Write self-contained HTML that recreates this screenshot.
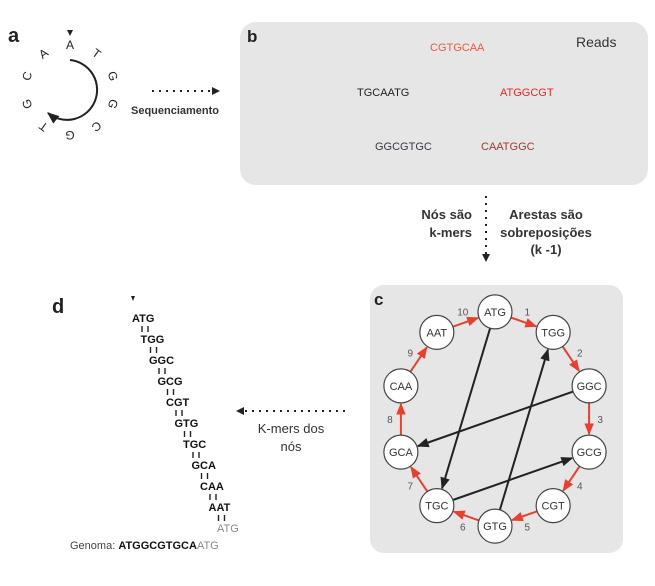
<!DOCTYPE html>
<html><head><meta charset="utf-8"><style>
body{margin:0;background:#fff;}
svg{display:block;font-family:"Liberation Sans",sans-serif;}
</style></head><body>
<svg width="655" height="586" viewBox="0 0 655 586">
<defs>
<marker id="ab" viewBox="0 0 10 10" refX="9" refY="5" markerWidth="6" markerHeight="6" orient="auto"><path d="M0,1 L10,5 L0,9 z" fill="#222"/></marker>
<marker id="ar" viewBox="0 0 10 10" refX="9" refY="5" markerWidth="6" markerHeight="6" orient="auto"><path d="M0,1 L10,5 L0,9 z" fill="#e8402e"/></marker>
</defs>

<!-- Panel a -->
<g>
<text x="8" y="42" font-size="20" font-weight="bold" fill="#222">a</text>
<path d="M70,60 A30,30 0 1 1 48,113" fill="none" stroke="#222" stroke-width="2" marker-end="url(#ab)"/>
<path d="M67,30 L73,30 L70,36 z" fill="#222"/>
<g font-size="12" fill="#222" text-anchor="middle" id="ringletters"></g>
<line x1="152" y1="91" x2="214" y2="91" stroke="#222" stroke-width="2" stroke-dasharray="2,5"/>
<path d="M212,87 L220,91 L212,95 z" fill="#222"/>
<text x="131" y="114" font-size="11" font-weight="bold" fill="#333">Sequenciamento</text>
</g>

<!-- Panel b -->
<g>
<rect x="240" y="22" width="408" height="163" rx="16" fill="#e6e6e6"/>
<text x="247" y="42" font-size="17" font-weight="bold" fill="#222">b</text>
<text x="576" y="47" font-size="14" fill="#333">Reads</text>
<g font-size="11">
<text x="430" y="51" fill="#ea5a3c">CGTGCAA</text>
<text x="357" y="96" fill="#222">TGCAATG</text>
<text x="500" y="96" fill="#e5281c">ATGGCGT</text>
<text x="375" y="150" fill="#333a45">GGCGTGC</text>
<text x="481" y="150" fill="#a03a2c">CAATGGC</text>
</g>
</g>

<!-- middle arrow -->
<line x1="486" y1="196" x2="486" y2="256" stroke="#222" stroke-width="2" stroke-dasharray="2,5"/>
<path d="M482,254 L486,262 L490,254 z" fill="#222"/>
<g font-size="13" font-weight="bold" fill="#333">
<text x="472" y="219" text-anchor="end">Nós são</text>
<text x="472" y="237" text-anchor="end">k-mers</text>
<text x="546" y="219" text-anchor="middle">Arestas são</text>
<text x="546" y="237" text-anchor="middle">sobreposições</text>
<text x="546" y="254" text-anchor="middle">(k -1)</text>
</g>

<!-- Panel c -->
<g>
<rect x="370" y="285" width="253" height="268" rx="14" fill="#e6e6e6"/>
<text x="374" y="305" font-size="17" font-weight="bold" fill="#222">c</text>
<g id="graph"></g>
</g>

<!-- arrow to d -->
<line x1="345" y1="411" x2="244" y2="411" stroke="#222" stroke-width="2" stroke-dasharray="2,5"/>
<path d="M244,407 L236,411 L244,415 z" fill="#222"/>
<text x="291" y="433" font-size="13" fill="#333" text-anchor="middle">K-mers dos</text>
<text x="291" y="451" font-size="13" fill="#333" text-anchor="middle">nós</text>

<!-- Panel d -->
<g>
<text x="52" y="313" font-size="20" font-weight="bold" fill="#222">d</text>
<path d="M131,296 L135,296 L133,301 z" fill="#222"/>
<g id="ladder" font-size="11" font-weight="bold"></g>
<text x="70" y="549" font-size="11" fill="#444">Genoma: <tspan font-weight="bold" fill="#111">ATGGCGTGCA</tspan><tspan fill="#888">ATG</tspan></text>
</g>
</svg>
<script>
const ring=["A","T","G","G","C","G","T","G","C","A"];
const kmers=["ATG","TGG","GGC","GCG","CGT","GTG","TGC","GCA","CAA","AAT"];
const redEdges=[[6,7,"7"],[7,8,"8"],[8,9,"9"],[9,0,"10"],[0,1,"1"],[1,2,"2"],[2,3,"3"],[3,4,"4"],[4,5,"5"],[5,6,"6"]];
const blackEdges=[[0,6],[5,1],[2,7],[6,3]];
const NS="http://www.w3.org/2000/svg";
function mk(t,a,p){const e=document.createElementNS(NS,t);for(const k in a)e.setAttribute(k,a[k]);p.appendChild(e);return e;}
const rl=document.getElementById('ringletters');
ring.forEach((c,i)=>{const ang=-90+i*36, r=45, cx=70, cy=90;
 const x=cx+r*Math.cos(ang*Math.PI/180), y=cy+r*Math.sin(ang*Math.PI/180);
 const t=mk('text',{x:x,y:y+4,transform:`rotate(${i*36} ${x} ${y})`},rl);
 
 
 t.textContent=c;});
const g=document.getElementById('graph');
const gcx=495, gcy=419, gr=102, nr=17;
const pos=kmers.map((k,i)=>{const a=(-90+i*36)*Math.PI/180;return [gcx+gr*Math.cos(a)*0.97,gcy+gr*Math.sin(a)*1.05];});
function edge(a,b,col,mark){const [x1,y1]=pos[a],[x2,y2]=pos[b];const dx=x2-x1,dy=y2-y1,L=Math.hypot(dx,dy);
 return mk('line',{x1:x1+dx/L*nr,y1:y1+dy/L*nr,x2:x2-dx/L*(nr+1),y2:y2-dy/L*(nr+1),stroke:col,'stroke-width':2,'marker-end':mark},g);}
blackEdges.forEach(([a,b])=>{const l=edge(a,b,'#222','url(#ab)');
 
 });
redEdges.forEach(([a,b,lab])=>{const l=edge(a,b,'#e8402e','url(#ar)');
 
 
 const mx=(pos[a][0]+pos[b][0])/2, my=(pos[a][1]+pos[b][1])/2;
 const ox=mx-gcx, oy=my-gcy, L=Math.hypot(ox,oy);
 const t=mk('text',{x:mx+ox/L*11,y:my+oy/L*11+4,'font-size':10,fill:'#555','text-anchor':'middle'},g);
 
 
 t.textContent=lab;});
kmers.forEach((k,i)=>{const [x,y]=pos[i];
 const c=mk('circle',{cx:x,cy:y,r:nr,fill:'#fff',stroke:'#444','stroke-width':1.2},g);
 
 
 const t=mk('text',{x:x,y:y+4,'font-size':11,fill:'#333','text-anchor':'middle'},g);
 t.textContent=k;});
const ld=document.getElementById('ladder');
const seq=kmers.concat(["ATG"]);
seq.forEach((k,i)=>{const x=132+i*8.5, y=322+i*21;
 const t=mk('text',{x:x,y:y,fill:i==10?'#888':'#111','font-weight':i==10?'normal':'bold'},ld);
 
 
 t.textContent=k;
 if(i<10){mk('line',{x1:x+10,y1:y+4,x2:x+10,y2:y+10,stroke:'#222','stroke-width':1.4},ld);
  mk('line',{x1:x+16,y1:y+4,x2:x+16,y2:y+10,stroke:'#222','stroke-width':1.4},ld);}
});
</script>
</body></html>
